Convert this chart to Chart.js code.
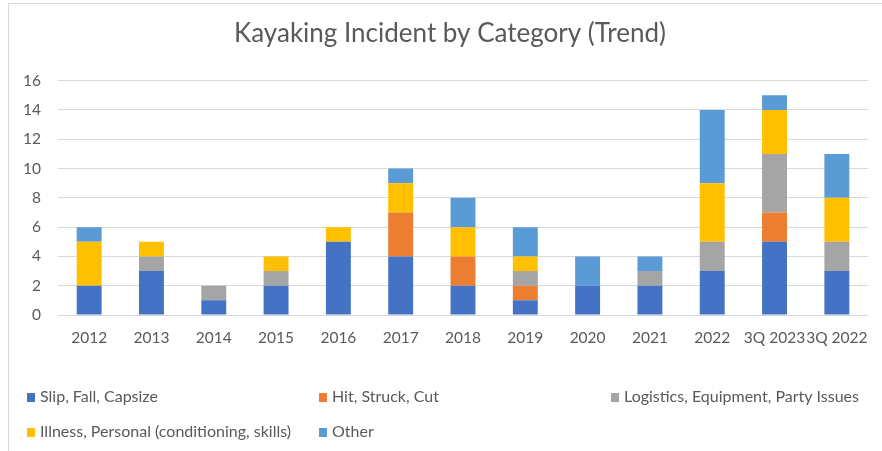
<!DOCTYPE html>
<html>
<head>
<meta charset="utf-8">
<script src="https://cdn.jsdelivr.net/npm/chart.js@4.4.1/dist/chart.umd.min.js"></script>
<style>
    html, body { margin: 0; padding: 0; background: #fff; }
    #wrap { position: relative; width: 882px; height: 451px; }
</style>
</head>
<body>
<div id="wrap"><canvas id="incidentChart" width="882" height="451"></canvas></div>
<script>
const categories = ['2012', '2013', '2014', '2015', '2016', '2017', '2018', '2019', '2020', '2021', '2022', '3Q 2023', '3Q 2022'];
const slipFallCapsize = [2, 3, 1, 2, 5, 4, 2, 1, 2, 2, 3, 5, 3];
const hitStruckCut    = [0, 0, 0, 0, 0, 3, 2, 1, 0, 0, 0, 2, 0];
const logistics       = [0, 1, 1, 1, 0, 0, 0, 1, 0, 1, 2, 4, 2];
const illness         = [3, 1, 0, 1, 1, 2, 2, 1, 0, 0, 4, 3, 3];
const other           = [1, 0, 0, 0, 0, 1, 2, 2, 2, 1, 5, 1, 3];
const seriesNames = ['Slip, Fall, Capsize', 'Hit, Struck, Cut', 'Logistics, Equipment, Party Issues', 'Illness, Personal (conditioning, skills)', 'Other'];
const seriesColors = ['#4472C4', '#ED7D31', '#A5A5A5', '#FFC000', '#5B9BD5'];
const yTicks = [0, 2, 4, 6, 8, 10, 12, 14, 16];

const FONT = 'Lato, "Open Sans", sans-serif';
const TEXT = '#595959';

// excel style legend: 3 columns, two rows, drawn under the plot
const legendGrid = {
    id: 'legendGrid',
    afterDraw(chart) {
        const ctx = chart.ctx;
        const cols = [27, 319, 611];
        const rows = [397, 432];
        ctx.save();
        ctx.font = '16px ' + FONT;
        ctx.textBaseline = 'middle';
        chart.data.datasets.forEach((ds, i) => {
            const x = cols[i % 3];
            const y = rows[Math.floor(i / 3)];
            ctx.fillStyle = ds.backgroundColor;
            ctx.fillRect(x, y - 4, 8, 9);
            ctx.fillStyle = TEXT;
            ctx.fillText(ds.label, x + 13, y);
        });
        ctx.restore();
    }
};

const frame = {
    id: 'frame',
    beforeDraw(chart) {
        const ctx = chart.ctx;
        ctx.save();
        ctx.strokeStyle = '#d9d9d9';
        ctx.lineWidth = 1;
        ctx.beginPath();
        ctx.moveTo(8.5, chart.height);
        ctx.lineTo(8.5, 3.5);
        ctx.lineTo(chart.width, 3.5);
        ctx.stroke();
        ctx.restore();
    }
};

const datasets = [slipFallCapsize, hitStruckCut, logistics, illness, other].map((values, i) => ({
    label: seriesNames[i],
    data: values,
    backgroundColor: seriesColors[i],
    borderWidth: 0,
    categoryPercentage: 1,
    barPercentage: 0.4
}));

new Chart(document.getElementById('incidentChart'), {
    type: 'bar',
    data: { labels: categories, datasets: datasets },
    options: {
        responsive: false,
        animation: false,
        layout: { padding: { left: 18, right: 0, top: 0, bottom: 0 } },
        scales: {
            x: {
                stacked: true,
                grid: { display: false, drawTicks: false },
                border: { display: false },
                ticks: { color: TEXT, font: { family: FONT, size: 15.5 }, padding: 14, maxRotation: 0, autoSkip: false },
                afterFit(scale) { scale.height = 136; }
            },
            y: {
                stacked: true,
                min: 0,
                max: 16,
                afterBuildTicks(scale) { scale.ticks = yTicks.map(v => ({ value: v })); },
                grid: { color: '#d9d9d9', lineWidth: 1, drawTicks: false },
                border: { display: false },
                ticks: { color: TEXT, font: { family: FONT, size: 15.5 }, padding: 17 },
                afterFit(scale) { scale.width = 40; }
            },
            // empty right-hand spacer so the plot stops short of the edge
            spacer: {
                type: 'linear',
                position: 'right',
                grid: { display: false, drawTicks: false },
                border: { display: false },
                ticks: { display: false },
                afterFit(scale) { scale.width = 13; }
            }
        },
        plugins: {
            legend: { display: false },
            tooltip: { enabled: false },
            title: {
                display: true,
                text: 'Kayaking Incident by Category (Trend)',
                color: TEXT,
                font: { family: FONT, size: 26, weight: 'normal' },
                padding: { top: 18, bottom: 31.5 }
            }
        }
    },
    plugins: [legendGrid, frame]
});
</script>
</body>
</html>
